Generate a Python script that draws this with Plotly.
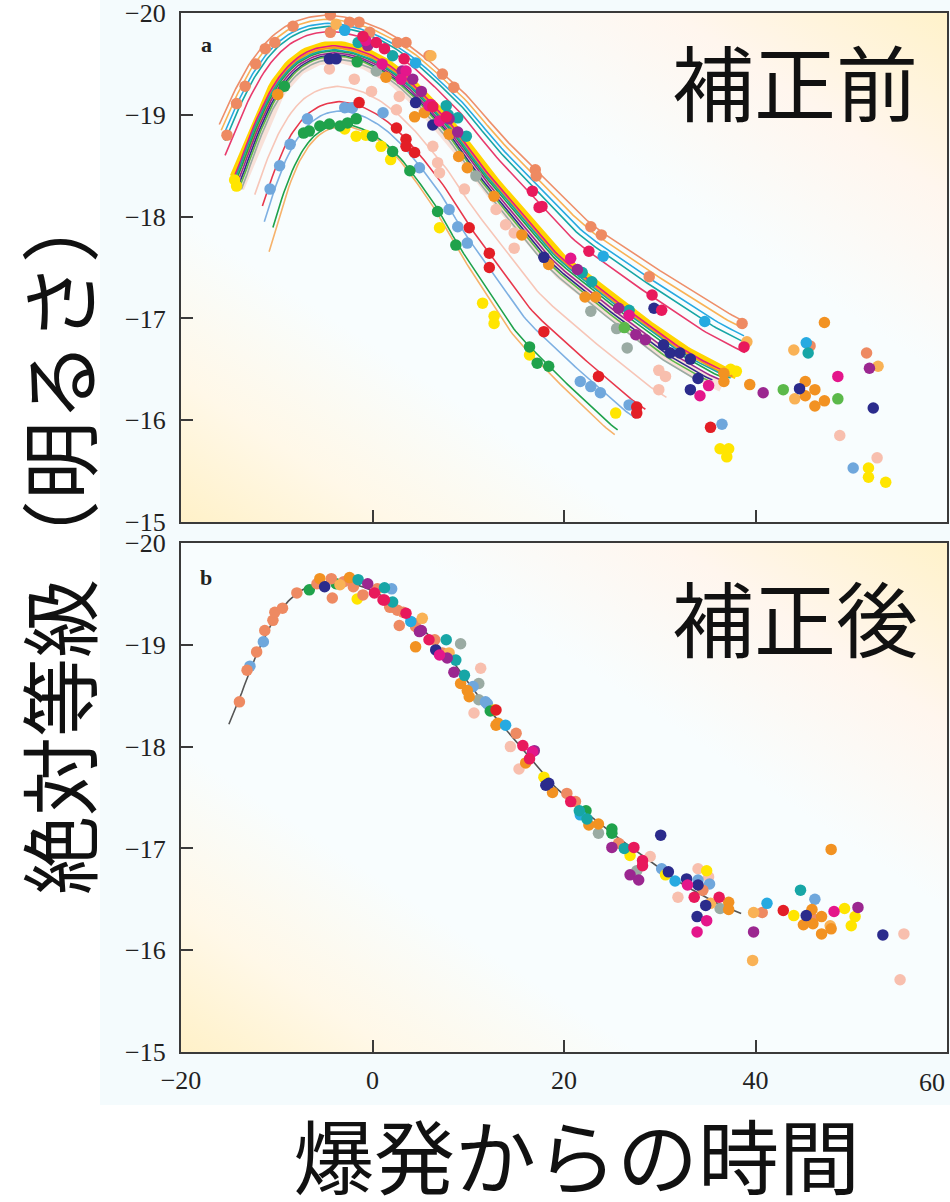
import base64
import numpy as np
import plotly.graph_objects as go

# ---------------- data ----------------
# template light curve (black line of panel b): days from peak, absolute magnitude
tmpl_t = [-16, -15, -14, -13, -12, -11, -10, -9, -8, -7, -6, -5, -4, -3, -2, -1, 0, 1, 2, 3, 4, 5,
          6, 7, 8, 9, 10, 11, 12, 13, 14, 15, 16, 17, 18, 19, 20, 22, 24, 26, 28, 30, 32, 34, 36, 38, 40]
tmpl_m = [-17.98, -18.22, -18.44, -18.70, -18.93, -19.13, -19.29, -19.41, -19.50, -19.56, -19.60,
          -19.62, -19.63, -19.62, -19.60, -19.57, -19.53, -19.48, -19.42, -19.35, -19.27, -19.18,
          -19.08, -18.98, -18.88, -18.76, -18.63, -18.50, -18.38, -18.27, -18.16, -18.05, -17.94,
          -17.83, -17.71, -17.61, -17.52, -17.37, -17.22, -17.08, -16.94, -16.80, -16.67, -16.56,
          -16.46, -16.38, -16.30]
tmpl_range_b = [-15.0, 38.5]

# per-supernova fitted curves of panel a (stretch, magnitude offset, time span)
curve_color = ["sal", "lor", "sky", "tea", "cri", "pnkband", "yelthick", "ora", "grn", "mag", "tea",
               "nav", "pur", "gry", "lgr", "pnk", "red", "lbl", "lor2", "grn"]
curve_stretch = [1.18, 1.16, 1.14, 1.12, 1.09, 0.97, 1.00, 1.00, 0.99, 1.00, 1.00,
                 0.97, 0.98, 0.95, 0.96, 0.91, 0.86, 0.83, 0.76, 0.78]
curve_offset = [-0.35, -0.31, -0.27, -0.24, -0.19, 0.06, -0.06, -0.03, 0.00, -0.05, -0.01,
                0.04, 0.02, 0.08, 0.05, 0.35, 0.50, 0.59, 0.74, 0.72]
curve_t0 = [-16.0, -15.8, -15.6, -15.4, -15.4, -14.0, -14.5, -14.4, -14.3, -14.4, -14.4,
            -14.0, -14.1, -13.7, -13.8, -12.3, -11.5, -11.3, -10.8, -10.4]
curve_t1 = [38.6, 38.8, 38.8, 38.6, 38.9, 36.5, 38.0, 37.6, 37.0, 37.8, 37.4,
            35.5, 36.2, 34.3, 35.0, 30.7, 28.5, 27.5, 25.3, 25.6]

# panel a observations (before correction)
a_t = [-15.2, -14.2, -13.3, -12.2, -11.2, -10.2, -8.3, -4.4, -4.4, -2.4, -1.4, -0.3, 2.6, 3.5, 5.9,
       7.3, 8.5, 17.0, 17.1, 22.8, 23.9, 28.9, 38.6, 45.7, 51.6,
       -3.8, 6.1, 39.1, 44.0, 52.8, 44.1,
       -2.9, 4.5, 24.1, 34.7, 45.3,
       -1.5, 2.1, 7.7, 8.9, 21.9, 22.9, 26.8, 45.5, 9.8, 7.9,
       -1.0, 0.4, 1.25, 3.3, 6.3, 7.7, 16.7, 17.4, 22.6, 29.2, 30.2, 38.8, 17.7,
       -0.7, 1.0, 3.5, 5.9, 7.0, 26.8, 35.1, 34.2, 48.6, 20.7, 3.0, 6.1,
       3.1, 4.2, 5.1, 8.0, 8.9, 25.7, 27.5, 28.5, 40.8, 51.9, 21.4, -0.5,
       -4.5, -3.8, 4.5, 6.3, 17.9, 30.4, 31.1, 32.1, 33.2, 29.4, 34.0, 33.2, 44.6, 52.3,
       -9.9, 1.4, 4.4, 9.0, 9.9, 15.6, 18.4, 22.2, 23.3, 36.7, 36.7, 39.4, 45.2, 46.2, 45.2, 47.2,
       46.2, 47.2, 5.4, 8.0, 12.7,
       0.4, 10.8, 22.8, 26.6, 25.5,
       -7.2, -6.6, -5.5, -4.5, -3.4, -2.6, -1.7, 0.0, 2.1, 3.9, 6.8, 8.7, 16.4, 17.2, 18.4,
       -9.2, -1.6,
       26.3, 42.9, 48.6,
       -2.9, -1.7, -0.7, 0.9, 1.9, 7.0, 11.5, 12.7, 12.7, 16.4, 25.4, 36.3, 37.2, 37.0, 51.8, 51.8,
       53.6, 37.4, 38.0, -14.4, -14.2,
       -10.7, -9.7, -8.6, -6.8, -2.9, -2.1, 1.1, 4.9, 8.0, 8.9, 9.9, 21.7, 22.8, 23.8, 26.8, 36.5,
       50.2,
       -1.4, 2.5, 3.5, 3.5, 4.4, 10.1, 12.2, 12.2, 17.9, 23.6, 27.6, 27.6, 35.3,
       -4.5, -1.9, -0.1, 2.5, 2.8, 6.3, 6.8, 7.0, 9.6, 12.9, 13.9, 14.8, 14.8, 29.9, 30.6, 29.9,
       48.8, 52.7]
a_m = [-18.80, -19.11, -19.28, -19.50, -19.65, -19.71, -19.87, -19.98, -19.81, -19.91, -19.91,
       -19.81, -19.71, -19.71, -19.58, -19.40, -19.27, -18.46, -18.40, -17.90, -17.82, -17.41,
       -16.95, -16.73, -16.66,
       -19.89, -19.58, -16.77, -16.69, -16.53, -16.21,
       -19.83, -19.51, -17.61, -16.97, -16.76,
       -19.71, -19.58, -19.09, -18.97, -17.45, -17.36, -17.08, -16.66, -18.79, -19.00,
       -19.77, -19.71, -19.65, -19.55, -19.08, -18.98, -18.25, -18.09, -17.66, -17.23, -17.08,
       -16.72, -18.10,
       -19.73, -19.50, -19.43, -19.09, -18.94, -17.03, -16.34, -16.24, -16.43, -17.59, -19.35,
       -19.10,
       -19.43, -19.35, -19.23, -18.96, -18.83, -17.10, -16.84, -16.79, -16.27, -16.51, -17.48,
       -19.68,
       -19.55, -19.55, -19.12, -18.90, -17.60, -16.74, -16.66, -16.66, -16.60, -17.10, -16.41,
       -16.30, -16.31, -16.12,
       -19.20, -19.37, -18.98, -18.59, -18.48, -17.82, -17.53, -17.21, -17.21, -16.46, -16.38,
       -16.35, -16.38, -16.30, -16.24, -16.19, -16.14, -16.96, -19.02, -18.81, -18.20,
       -19.43, -18.40, -17.07, -16.71, -16.90,
       -18.82, -18.84, -18.89, -18.91, -18.89, -18.92, -18.96, -18.79, -18.64, -18.45, -18.05,
       -17.72, -16.72, -16.56, -16.53,
       -19.28, -19.52,
       -16.91, -16.30, -16.21,
       -18.86, -18.79, -18.80, -18.69, -18.56, -17.89, -17.15, -17.02, -16.95, -16.64, -16.07,
       -15.72, -15.72, -15.64, -15.53, -15.44, -15.39, -16.50, -16.48, -18.36, -18.30,
       -18.27, -18.50, -18.71, -18.96, -19.07, -19.07, -19.02, -18.48, -18.07, -17.90, -17.74,
       -16.38, -16.33, -16.27, -16.15, -15.96, -15.53,
       -19.12, -18.87, -18.76, -18.69, -18.63, -17.89, -17.64, -17.50, -16.87, -16.43, -16.13,
       -16.07, -15.93,
       -19.45, -19.35, -19.23, -19.05, -19.18, -18.69, -18.53, -18.43, -18.27, -18.07, -17.92,
       -17.84, -17.69, -16.49, -16.43, -16.30, -15.85, -15.63]
a_c = (["sal"] * 25 + ["lor"] * 6 + ["sky"] * 5 + ["tea"] * 10 + ["cri"] * 13 + ["mag"] * 12 +
       ["pur"] * 12 + ["nav"] * 14 + ["ora"] * 21 + ["gry"] * 5 + ["grn"] * 17 + ["lgr"] * 3 +
       ["yel"] * 21 + ["lbl"] * 17 + ["red"] * 13 + ["pnk"] * 18)

# panel b observations (after correction)
b_t = [-13.9, -13.1, -12.1, -11.25, -10.4, -10.2, -9.4, -7.9, -4.3, -4.2, -2.0, -1.0, 1.8, 2.6, 2.8,
       4.5, 2.1, 3.2, 4.4, 6.5, 7.3, 15.0, 20.3, 21.2, 25.7, 34.5, 40.7, 46.0, -5.8, -3.0, 0.5,
       -12.8, -11.4, 2.0, 10.5, 11.8, 12.0, 30.2, 34.0, 35.2, 46.2,
       -6.6, 12.3, 22.3, 25.0, 25.0, -3.8,
       -5.5, -2.4, 4.5, 9.2, 10.1, 13.1, 12.9, 16.0, 18.8, 22.6, 23.6, 37.2, 37.2, 45.9, 46.9, 45.0,
       46.0, 47.9, 46.9, 47.9, 9.9,
       -5.0, 6.6, 18.1, 18.4, 30.1, 30.9, 32.8, 34.0, 34.8, 33.9, 45.3, 53.3,
       -3.4, 5.2, 8.0, 35.3, 39.8, 39.7, 47.8,
       -1.5, 1.25, 2.1, 7.7, 8.7, 9.6, 21.6, 22.4, 26.3, 44.7,
       -1.6, 12.7, 17.9, 26.9, 30.6, 34.9, 44.0, 49.3, 50.4, 50.0,
       -0.5, 5.1, 4.9, 7.8, 8.5, 16.9, 25.0, 26.9, 27.8, 39.8, 50.7,
       0.2, 1.1, 1.25, 3.5, 5.9, 15.7, 16.4, 20.7, 27.3, 28.2, 28.2, 33.6, 36.2,
       7.0, 16.7, 32.9, 34.9, 33.9, 48.2,
       4.0, 13.9, 21.7, 31.6, 41.2,
       9.2, 11.1, 11.1, 23.6, 27.6, 36.3,
       11.3, 10.6, 14.4, 15.3, 29.0, 31.9, 34.0, 35.1, 55.5, 55.1,
       12.9, 42.9]
b_m = [-18.44, -18.75, -18.93, -19.14, -19.24, -19.32, -19.36, -19.51, -19.65, -19.46, -19.57,
       -19.49, -19.37, -19.34, -19.19, -19.18, -19.37, -19.32, -19.21, -19.05, -18.92, -18.13,
       -17.54, -17.46, -17.05, -16.59, -16.37, -16.31, -19.60, -19.62, -19.55,
       -18.79, -19.03, -19.55, -18.59, -18.44, -18.42, -16.80, -16.69, -16.65, -16.50,
       -19.54, -18.35, -17.37, -17.19, -17.15, -19.60,
       -19.65, -19.66, -18.98, -18.62, -18.49, -18.23, -18.21, -17.84, -17.55, -17.23, -17.24,
       -16.47, -16.40, -16.40, -16.33, -16.25, -16.26, -16.21, -16.16, -16.99, -18.55,
       -19.57, -18.95, -17.62, -17.64, -17.13, -16.77, -16.70, -16.64, -16.44, -16.33, -16.34,
       -16.15,
       -19.59, -19.26, -18.92, -16.46, -16.37, -15.90, -16.24,
       -19.64, -19.56, -19.42, -19.05, -18.85, -18.70, -17.37, -17.29, -17.00, -16.59,
       -19.45, -18.36, -17.70, -16.93, -16.74, -16.78, -16.34, -16.41, -16.33, -16.24,
       -19.60, -19.14, -19.13, -18.87, -18.73, -17.96, -17.01, -16.74, -16.69, -16.18, -16.42,
       -19.51, -19.44, -19.44, -19.31, -19.05, -18.01, -17.88, -17.46, -17.01, -16.88, -16.83,
       -16.52, -16.52,
       -18.90, -17.95, -16.64, -16.29, -16.18, -16.38,
       -19.23, -18.21, -17.33, -16.68, -16.46,
       -19.01, -18.62, -18.46, -17.15, -16.78, -16.41,
       -18.77, -18.33, -18.00, -17.78, -16.92, -16.52, -16.80, -16.72, -16.16, -15.71,
       -18.36, -16.39]
b_c = (["sal"] * 31 + ["lbl"] * 10 + ["grn"] * 6 + ["ora"] * 21 + ["nav"] * 12 + ["lor"] * 7 +
       ["tea"] * 10 + ["yel"] * 10 + ["pur"] * 11 + ["cri"] * 13 + ["mag"] * 6 + ["sky"] * 5 +
       ["gry"] * 6 + ["pnk"] * 10 + ["red"] * 2)

y_ticks = [-20, -19, -18, -17, -16, -15]
x_ticks = [-20, 0, 20, 40, 60]

# ---------------- style ----------------
COL = {"sal": "#ee8a62", "lor": "#f9b256", "lor2": "#f6b26b", "sky": "#27aae1", "tea": "#17a6a6",
       "cri": "#e8195c", "mag": "#e4168b", "pur": "#9b2790", "nav": "#2b2b8c", "ora": "#f29222",
       "gry": "#9aaba3", "grn": "#1fa24b", "lgr": "#5bb94a", "yel": "#ffe500", "lbl": "#6fa7dc",
       "red": "#e31e26", "pnk": "#f8bfae", "yelthick": "#ffd400", "pnkband": "rgba(248,190,174,0.45)"}
LINECOL = dict(COL)
LINECOL["cri"] = "#e83a6c"
LINECOL["red"] = "#e8384c"
LINECOL["lbl"] = "#7eb0e2"
LINECOL["pnk"] = "#f7c6b8"
LINECOL["sal"] = "#ee8f6a"

W, H = 950, 1202
X0, X1 = 181, 947
A_TOP, A_BOT = 13, 522
B_TOP, B_BOT = 543, 1052
xd = [X0 / W, X1 / W]
ya = [1 - A_BOT / H, 1 - A_TOP / H]
yb = [1 - B_BOT / H, 1 - B_TOP / H]

fig = go.Figure()

# panel a fitted curves
for i in range(len(curve_color)):
    s, dm = curve_stretch[i], curve_offset[i]
    tt = np.linspace(curve_t0[i], curve_t1[i], 160)
    mm = np.interp(tt / s, tmpl_t, tmpl_m) + dm
    key = curve_color[i]
    if key == "yelthick":
        w = 8
    elif key == "pnkband":
        w = 12
    else:
        w = 1.6
    fig.add_trace(go.Scatter(x=tt, y=mm, mode="lines", line=dict(color=LINECOL[key], width=w),
                             xaxis="x", yaxis="y", hoverinfo="skip", showlegend=False))

# panel b template line
tb = np.linspace(tmpl_range_b[0], tmpl_range_b[1], 200)
fig.add_trace(go.Scatter(x=tb, y=np.interp(tb, tmpl_t, tmpl_m), mode="lines",
                         line=dict(color="#555555", width=1.6), xaxis="x2", yaxis="y2",
                         hoverinfo="skip", showlegend=False))

draw_order = ["pnk", "gry", "lgr", "lbl", "yel", "grn", "red", "sal", "lor", "ora", "nav", "sky",
              "tea", "pur", "mag", "cri"]


def add_points(ts, ms, cs, xa, ya_):
    ts, ms, cs = np.array(ts), np.array(ms), np.array(cs)
    for key in draw_order:
        sel = cs == key
        if sel.sum() == 0:
            continue
        fig.add_trace(go.Scatter(x=ts[sel], y=ms[sel], mode="markers",
                                 marker=dict(color=COL[key], size=11.5, line=dict(width=0)),
                                 xaxis=xa, yaxis=ya_, hoverinfo="skip", showlegend=False))


add_points(a_t, a_m, a_c, "x", "y")
add_points(b_t, b_m, b_c, "x2", "y2")


# ---------------- background ----------------
def svg_uri(svg):
    return "data:image/svg+xml;base64," + base64.b64encode(svg.encode()).decode()


grad_svg = ('<svg xmlns="http://www.w3.org/2000/svg" width="100" height="100" viewBox="0 0 100 100" '
            'preserveAspectRatio="none"><defs><linearGradient id="g" x1="0" y1="1" x2="1" y2="0">'
            '<stop offset="0" stop-color="#fff1c8"/><stop offset="0.14" stop-color="#fff8e8"/>'
            '<stop offset="0.30" stop-color="#f8fdfe"/><stop offset="0.64" stop-color="#f8fdfe"/>'
            '<stop offset="0.82" stop-color="#fff6ee"/><stop offset="1" stop-color="#fff2ca"/>'
            '</linearGradient></defs><rect x="0" y="0" width="100" height="100" fill="url(#g)"/></svg>')
solid_svg = ('<svg xmlns="http://www.w3.org/2000/svg" width="100" height="100" viewBox="0 0 100 100" '
             'preserveAspectRatio="none"><rect x="0" y="0" width="100" height="100" fill="#f4fbfd"/></svg>')

images = [
    dict(source=svg_uri(solid_svg), xref="paper", yref="paper", x=100 / W, y=1.0,
         sizex=(W - 100) / W, sizey=1105 / H, xanchor="left", yanchor="top", sizing="stretch",
         layer="below"),
    dict(source=svg_uri(grad_svg), xref="paper", yref="paper", x=xd[0], y=ya[1],
         sizex=xd[1] - xd[0], sizey=ya[1] - ya[0], xanchor="left", yanchor="top",
         sizing="stretch", layer="below"),
    dict(source=svg_uri(grad_svg), xref="paper", yref="paper", x=xd[0], y=yb[1],
         sizex=xd[1] - xd[0], sizey=yb[1] - yb[0], xanchor="left", yanchor="top",
         sizing="stretch", layer="below"),
]

tickfont = dict(family="Liberation Serif", size=26, color="#222222")
axis_common = dict(showgrid=False, zeroline=False, showline=True, linecolor="#3a3a3a",
                   linewidth=2.2, mirror=True, ticks="inside", ticklen=12, tickwidth=2,
                   tickcolor="#3a3a3a", tickfont=tickfont, automargin=False,
                   ticklabeloverflow="allow")


def fmt(v):
    return ("\u2212" if v < 0 else "") + str(abs(v))


# the last x tick label sits against the right edge, so it is placed as its own text
x_ticktext = [fmt(v) for v in x_ticks[:-1]] + [""]

jp = "Noto Sans CJK JP"
annotations = [
    dict(text="補正前", x=795 / W, y=1 - 80 / H, xref="paper", yref="paper", showarrow=False,
         font=dict(family=jp, size=82, color="#111111"), xanchor="center", yanchor="middle"),
    dict(text="補正後", x=795 / W, y=1 - 615 / H, xref="paper", yref="paper", showarrow=False,
         font=dict(family=jp, size=82, color="#111111"), xanchor="center", yanchor="middle"),
    dict(text="絶対等級（明るさ）", x=56 / W, y=1 - 540 / H, xref="paper", yref="paper",
         showarrow=False, textangle=-90, font=dict(family=jp, size=79, color="#111111"),
         xanchor="center", yanchor="middle"),
    dict(text="爆発からの時間", x=576 / W, y=1 - 1152 / H, xref="paper", yref="paper",
         showarrow=False, font=dict(family=jp, size=81, color="#111111"), xanchor="center",
         yanchor="middle"),
    dict(text=fmt(x_ticks[-1]), x=x_ticks[-1], xref="x2", y=1 - B_BOT / H, yref="paper",
         yshift=-14, xshift=0, showarrow=False, font=tickfont, xanchor="right", yanchor="top"),
    dict(text="<b>a</b>", x=206 / W, y=1 - 45 / H, xref="paper", yref="paper", showarrow=False,
         font=dict(family="Liberation Serif", size=22, color="#222222"), xanchor="center",
         yanchor="middle"),
    dict(text="<b>b</b>", x=206 / W, y=1 - 577 / H, xref="paper", yref="paper", showarrow=False,
         font=dict(family="Liberation Serif", size=22, color="#222222"), xanchor="center",
         yanchor="middle"),
]

fig.update_layout(
    width=W, height=H, margin=dict(l=0, r=0, t=0, b=0, autoexpand=False),
    paper_bgcolor="#ffffff", plot_bgcolor="rgba(0,0,0,0)",
    images=images, annotations=annotations, showlegend=False,
    xaxis=dict(domain=xd, anchor="y", range=[-20, 60], tickvals=x_ticks, showticklabels=False,
               **axis_common),
    yaxis=dict(domain=ya, anchor="x", range=[-15, -20], tickvals=y_ticks,
               ticktext=[fmt(v) for v in y_ticks], ticklabelstandoff=8, **axis_common),
    xaxis2=dict(domain=xd, anchor="y2", range=[-20, 60], tickvals=x_ticks,
                ticktext=x_ticktext, ticklabelstandoff=4, **axis_common),
    yaxis2=dict(domain=yb, anchor="x2", range=[-15, -20], tickvals=y_ticks,
                ticktext=[fmt(v) for v in y_ticks], ticklabelstandoff=8, **axis_common),
)

fig.write_html("out.html")
